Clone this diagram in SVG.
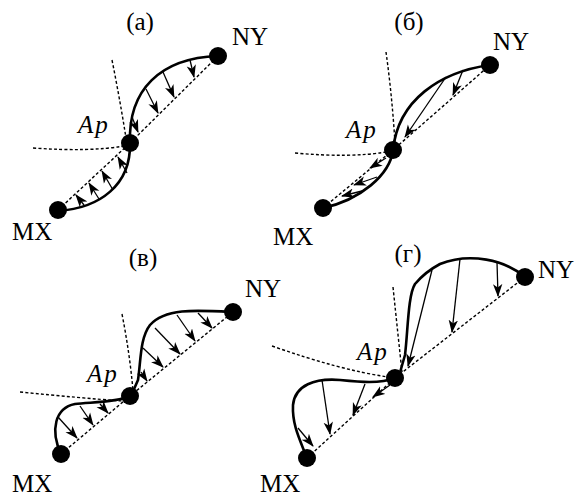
<svg xmlns="http://www.w3.org/2000/svg" width="576" height="498" viewBox="0 0 576 498">
<style>
.t{font-family:'Liberation Serif',serif;fill:#000;font-size:25px}
.it{font-style:italic;letter-spacing:2px}
.curve{fill:none;stroke:#000;stroke-width:2.6;stroke-linecap:round;stroke-linejoin:round}
.dash{fill:none;stroke:#000;stroke-width:1.4;stroke-dasharray:3 2.2}
.arr{fill:none;stroke:#000;stroke-width:1.3;marker-end:url(#ah)}
.dot{fill:#000}
</style>
<defs>
<marker id="ah" markerUnits="userSpaceOnUse" markerWidth="13" markerHeight="10" viewBox="0 0 13 10" refX="12" refY="5" orient="auto">
<path d="M0,0.3 L13,5 L0,9.7 L3.5,5 Z" fill="#000"/>
</marker>
</defs>
<rect width="576" height="498" fill="#fff"/>

<g id="labels" class="t">
<text x="140" y="30" text-anchor="middle">(а)</text>
<text x="409" y="30" text-anchor="middle">(б)</text>
<text x="143" y="266" text-anchor="middle">(в)</text>
<text x="408" y="262" text-anchor="middle">(г)</text>
</g>

<g id="connectors">
<!-- panel a -->
<polyline class="dash" points="58,210 130,143 218,56"/>
<path class="dash" d="M112,60 Q120,100 126,138"/>
<path class="dash" d="M33,148 Q90,152 124,146"/>
<path class="curve" d="M218,56 C160,58 128,90 130,143 C131,185 100,208 58,211"/>
<line class="arr" x1="190" y1="60" x2="194" y2="77"/>
<line class="arr" x1="163" y1="72" x2="174" y2="97"/>
<line class="arr" x1="146" y1="89" x2="158" y2="113"/>
<line class="arr" x1="132" y1="117" x2="138" y2="132"/>
<line class="arr" x1="127" y1="173" x2="118" y2="157"/>
<line class="arr" x1="113" y1="190" x2="102" y2="171"/>
<line class="arr" x1="99" y1="199" x2="89" y2="183"/>
<line class="arr" x1="84" y1="205" x2="76" y2="195"/>

<!-- panel b -->
<polyline class="dash" points="323,208 393,150 490,65"/>
<path class="dash" d="M386,52 Q392,95 395,143"/>
<path class="dash" d="M295,153 Q350,158 386,152"/>
<path class="curve" d="M490,65 C440,72 398,100 393,150 C390,175 360,200 323,208"/>
<line class="arr" x1="446" y1="77" x2="405" y2="137"/>
<line class="arr" x1="463" y1="70" x2="453" y2="95"/>
<line class="arr" x1="386" y1="158" x2="370" y2="168"/>
<line class="arr" x1="377" y1="177" x2="354" y2="185"/>
<line class="arr" x1="362" y1="191" x2="342" y2="196"/>

<!-- panel v -->
<polyline class="dash" points="61,454 130,396 233,312"/>
<path class="dash" d="M122,314 Q130,355 133,391"/>
<path class="dash" d="M20,392 Q80,398 123,401"/>
<path class="curve" d="M233,312 C195,310 165,308 150,325 C140,338 141,360 138,380 L131,396"/>
<path class="curve" d="M130,396 C115,403 90,402 75,404 C55,408 50,430 61,454"/>
<line class="arr" x1="198" y1="313" x2="212" y2="328"/>
<line class="arr" x1="177" y1="315" x2="195" y2="341"/>
<line class="arr" x1="155" y1="328" x2="180" y2="354"/>
<line class="arr" x1="143" y1="348" x2="163" y2="367"/>
<line class="arr" x1="141" y1="372" x2="147" y2="381"/>
<line class="arr" x1="100" y1="404" x2="108" y2="413"/>
<line class="arr" x1="80" y1="406" x2="93" y2="425"/>
<line class="arr" x1="58" y1="417" x2="77" y2="438"/>

<!-- panel g -->
<polyline class="dash" points="307,458 395,378 525,277"/>
<path class="dash" d="M393,287 Q398,335 402,372"/>
<path class="dash" d="M272,346 Q340,370 388,377"/>
<path class="curve" d="M525,277 C505,260 470,252 440,264 Q425,272 415,284 C408,295 408,330 405,355 L399,376"/>
<path class="curve" d="M395,378 C380,384 360,382 340,380 C315,378 295,385 293,405 C292,425 300,440 307,458"/>
<line class="arr" x1="497" y1="262" x2="498" y2="296"/>
<line class="arr" x1="460" y1="259" x2="452" y2="332"/>
<line class="arr" x1="432" y1="270" x2="408" y2="366"/>
<line class="arr" x1="390" y1="385" x2="373" y2="397"/>
<line class="arr" x1="365" y1="384" x2="353" y2="415"/>
<line class="arr" x1="322" y1="380" x2="330" y2="434"/>
<line class="arr" x1="298" y1="428" x2="313" y2="446"/>
</g>

<g id="panel-a" class="t">
<g id="a-NY"><circle class="dot" cx="218" cy="56" r="9"/><text x="232" y="45">NY</text></g>
<g id="a-Ap"><circle class="dot" cx="130" cy="143" r="9"/><text class="it" x="78" y="133">Ap</text></g>
<g id="a-MX"><circle class="dot" cx="58" cy="210" r="9"/><text x="12" y="240">MX</text></g>
</g>
<g id="panel-b" class="t">
<g id="b-NY"><circle class="dot" cx="490" cy="65" r="9"/><text x="493" y="50">NY</text></g>
<g id="b-Ap"><circle class="dot" cx="393" cy="150" r="9"/><text class="it" x="346" y="138">Ap</text></g>
<g id="b-MX"><circle class="dot" cx="323" cy="208" r="9"/><text x="273" y="245">MX</text></g>
</g>
<g id="panel-v" class="t">
<g id="v-NY"><circle class="dot" cx="233" cy="312" r="9"/><text x="245" y="297">NY</text></g>
<g id="v-Ap"><circle class="dot" cx="130" cy="396" r="9"/><text class="it" x="87" y="382">Ap</text></g>
<g id="v-MX"><circle class="dot" cx="61" cy="454" r="9"/><text x="12" y="492">MX</text></g>
</g>
<g id="panel-g" class="t">
<g id="g-NY"><circle class="dot" cx="525" cy="277" r="9"/><text x="538" y="278">NY</text></g>
<g id="g-Ap"><circle class="dot" cx="395" cy="378" r="9"/><text class="it" x="357" y="360">Ap</text></g>
<g id="g-MX"><circle class="dot" cx="307" cy="458" r="9"/><text x="260" y="492">MX</text></g>
</g>
</svg>
